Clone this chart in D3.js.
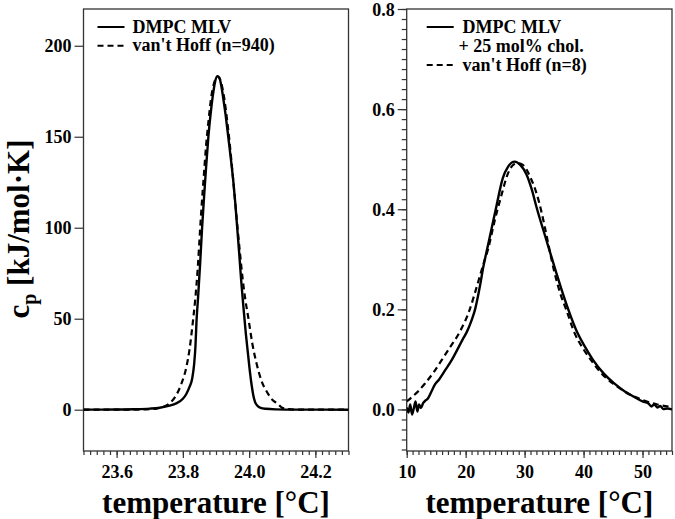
<!DOCTYPE html>
<html>
<head>
<meta charset="utf-8">
<script src="https://cdn.jsdelivr.net/npm/d3@7"></script>
<style>
  html, body { margin: 0; padding: 0; background: #fff; }
  svg { display: block; font-family: "Liberation Serif", "Times New Roman", serif; font-weight: bold; }
</style>
</head>
<body>
<svg id="chart" width="675" height="519"></svg>
<script>
// ---- Left panel: DMPC MLV ----
const dmpcT  = [23.50,23.55,23.60,23.65,23.70,23.73,23.76,23.78,23.80,23.81,23.82,23.828,23.834,23.838,23.841,23.846,23.852,23.858,23.864,23.870,23.877,23.884,23.890,23.897,23.904,23.910,23.916,23.922,23.929,23.937,23.946,23.952,23.958,23.964,23.970,23.976,23.983,23.990,23.997,24.003,24.008,24.013,24.018,24.025,24.035,24.05,24.08,24.15,24.30];
const dmpcCp = [0,0.05,0.1,0.25,0.6,1.1,2.2,3.5,6.0,8.5,12.5,17,25,35,48,62,80,100,117,133,150,163,172,180,183.3,182.5,178,171,162,150,136,126,114,100,86,71,56,42,30,20,13,7.5,4.2,2.2,1.0,0.5,0.2,0.05,0];
const hoff940T  = [23.50,23.65,23.70,23.72,23.74,23.76,23.78,23.795,23.81,23.82,23.83,23.838,23.845,23.851,23.857,23.863,23.870,23.877,23.885,23.895,23.905,23.915,23.925,23.933,23.941,23.949,23.957,23.965,23.973,23.981,23.989,23.998,24.010,24.023,24.037,24.053,24.070,24.088,24.100,24.120,24.150,24.30];
const hoff940Cp = [0,0,0.3,0.6,1.5,3.5,8,14,23,33,48,62,78,96,113,128,145,158,171,180,183,180,171,160,147,132,116,100,85,71,60,50,36,25,16,10,5.5,3,1,0.3,0,0];
const leftXTicks = [23.6, 23.8, 24.0, 24.2];
const leftYTicks = [0, 50, 100, 150, 200];
const leftLegend = ["DMPC MLV", "van't Hoff (n=940)"];

// ---- Right panel: DMPC MLV + 25 mol% chol. ----
const cholT  = [10.0,10.3,10.6,10.9,11.2,11.5,11.8,12.1,12.4,12.8,13.2,13.6,14.2,14.8,15.5,16.5,17.6,18.7,19.5,20.2,21.0,21.6,22.4,23.0,23.6,24.1,25.2,26.3,27.2,28.3,29.3,30.3,31.2,32.0,33.7,35.4,36.2,37.4,39.0,40.3,41.6,43.4,45.2,47.0,48.6,50.0,51.0,51.5,52.0,52.5,53.0,53.5,54.2,55.0];
const cholCp = [0.004,-0.006,0.010,-0.010,0.002,0.016,-0.004,0.010,0.003,0.013,0.018,0.022,0.036,0.050,0.060,0.078,0.098,0.122,0.140,0.155,0.178,0.200,0.245,0.285,0.318,0.345,0.405,0.462,0.485,0.495,0.488,0.470,0.440,0.405,0.338,0.272,0.242,0.200,0.152,0.124,0.099,0.072,0.052,0.036,0.025,0.016,0.012,0.006,0.010,0.004,0.007,0.001,0.002,0.000];
const hoff8T  = [10.0,10.9,12.0,13.1,14.5,15.9,17.4,19.0,20.7,21.5,22.3,23.0,23.8,24.9,26.0,27.2,28.0,28.7,29.5,30.3,31.0,31.7,32.5,33.4,34.2,35.1,36.1,37.1,38.5,40.0,41.3,43.2,45.2,47.5,50.0,52.5,55.0];
const hoff8Cp = [0.016,0.025,0.037,0.052,0.073,0.098,0.125,0.155,0.200,0.230,0.262,0.290,0.320,0.376,0.425,0.472,0.488,0.492,0.490,0.480,0.463,0.443,0.412,0.366,0.320,0.272,0.230,0.198,0.152,0.120,0.098,0.070,0.050,0.032,0.019,0.010,0.005];
const rightXTicks = [10, 20, 30, 40, 50];
const rightYTicks = [0.0, 0.2, 0.4, 0.6, 0.8];
const rightLegend = ["DMPC MLV", "+ 25 mol% chol.", "van't Hoff (n=8)"];

const xTitle = "temperature [°C]";

const svg = d3.select("#chart");
const plotTop = 9, plotBottom = 451;
const frameColor = "#333";

function panel(opts) {
  const g = svg.append("g");
  const x = d3.scaleLinear().domain(opts.xDomain).range([opts.left, opts.right]);
  const y = d3.scaleLinear().domain(opts.yDomain).range([plotBottom, plotTop]);

  const xMinor = d3.axisBottom(x).tickValues(opts.xMinor).tickSize(4).tickFormat("");
  g.append("g").attr("transform", `translate(0,${plotBottom})`).call(xMinor)
    .call(s => s.select(".domain").remove());
  const xAxis = d3.axisBottom(x).tickValues(opts.xTicks).tickSize(7).tickFormat(opts.xFormat);
  const gx = g.append("g").attr("transform", `translate(0,${plotBottom})`).call(xAxis);
  gx.select(".domain").remove();
  gx.selectAll("text").attr("y", 27).attr("dy", 0)
    .style("font-size", "18px").style("font-family", "Liberation Serif").style("font-weight", "bold").attr("fill", "#000");

  if (opts.yMinor) {
    const yMinor = d3.axisLeft(y).tickValues(opts.yMinor).tickSize(5).tickFormat("");
    g.append("g").attr("transform", `translate(${opts.left},0)`).call(yMinor)
      .call(s => s.select(".domain").remove());
  }
  const yAxis = d3.axisLeft(y).tickValues(opts.yTicks).tickSize(9).tickPadding(3).tickFormat(opts.yFormat);
  const gy = g.append("g").attr("transform", `translate(${opts.left},0)`).call(yAxis);
  gy.select(".domain").remove();
  gy.selectAll("text").attr("dy", "0.34em")
    .style("font-size", "18px").style("font-family", "Liberation Serif").style("font-weight", "bold").attr("fill", "#000");

  g.selectAll(".tick line").attr("stroke", frameColor).attr("stroke-width", 1.2);

  g.append("rect").attr("x", opts.left).attr("y", plotTop)
    .attr("width", opts.right - opts.left).attr("height", plotBottom - plotTop)
    .attr("fill", "none").attr("stroke", frameColor).attr("stroke-width", 1.3);

  const line = d3.line().x(d => x(d[0])).y(d => y(d[1])).curve(d3.curveMonotoneX);
  const clipId = "clip" + Math.round(opts.left);
  g.append("clipPath").attr("id", clipId).append("rect")
    .attr("x", opts.left).attr("y", plotTop).attr("width", opts.right - opts.left).attr("height", plotBottom - plotTop);

  g.append("path").datum(d3.zip(opts.dashT, opts.dashV))
    .attr("d", line).attr("fill", "none").attr("stroke", "#000")
    .attr("stroke-width", 2.2).attr("stroke-dasharray", "6,4").attr("clip-path", `url(#${clipId})`);
  g.append("path").datum(d3.zip(opts.solidT, opts.solidV))
    .attr("d", line).attr("fill", "none").attr("stroke", "#000")
    .attr("stroke-width", 2.4).attr("clip-path", `url(#${clipId})`);

  const lg = g.append("g").style("font-size", "18px");
  const lx = opts.left + opts.legDx;
  lg.append("line").attr("x1", lx).attr("x2", lx + 27).attr("y1", 27).attr("y2", 27)
    .attr("stroke", "#000").attr("stroke-width", 2);
  opts.legend.forEach((t, i) => {
    lg.append("text").attr("x", opts.legTextX[i]).attr("y", opts.legTextY[i]).text(t);
  });
  const dy = opts.legDashY;
  lg.append("line").attr("x1", lx).attr("x2", lx + 27).attr("y1", dy).attr("y2", dy)
    .attr("stroke", "#000").attr("stroke-width", 2).attr("stroke-dasharray", "6,4");

  svg.append("text").attr("x", (opts.left + opts.right) / 2).attr("y", 513)
    .attr("text-anchor", "middle").style("font-size", "31px").text(xTitle);
  return {x, y};
}

panel({
  left: 83.5, right: 348.5,
  xDomain: [23.5, 24.3], yDomain: [-22.7, 220.2],
  xTicks: leftXTicks, xMinor: d3.range(0, 41).map(i => 23.5 + i * 0.02),
  xFormat: d3.format(".1f"),
  yTicks: leftYTicks, yMinor: null, yFormat: d3.format("d"),
  solidT: dmpcT, solidV: dmpcCp, dashT: hoff940T, dashV: hoff940Cp,
  legend: leftLegend, legDx: 14, legTextX: [132.5, 132.5], legTextY: [32.5, 51], legDashY: 45.7
});

panel({
  left: 406.7, right: 672,
  xDomain: [10, 55], yDomain: [-0.083, 0.8],
  xTicks: rightXTicks, xMinor: d3.range(10, 56),
  xFormat: d3.format("d"),
  yTicks: rightYTicks, yMinor: d3.range(0, 45).map(i => -0.08 + i * 0.02).filter(v => v <= 0.801), yFormat: d3.format(".1f"),
  solidT: cholT, solidV: cholCp, dashT: hoff8T, dashV: hoff8Cp,
  legend: rightLegend, legDx: 20, legTextX: [462.5, 458.5, 462.5], legTextY: [32.5, 52, 70.5], legDashY: 65
});

const yt = svg.append("text")
  .attr("transform", "translate(29,229) rotate(-90)")
  .attr("text-anchor", "middle").style("font-size", "31px");
yt.append("tspan").text("c");
yt.append("tspan").attr("dy", 7).style("font-size", "20px").text("p");
yt.append("tspan").attr("dy", -7).text(" [kJ/mol·K]");
</script>
</body>
</html>
